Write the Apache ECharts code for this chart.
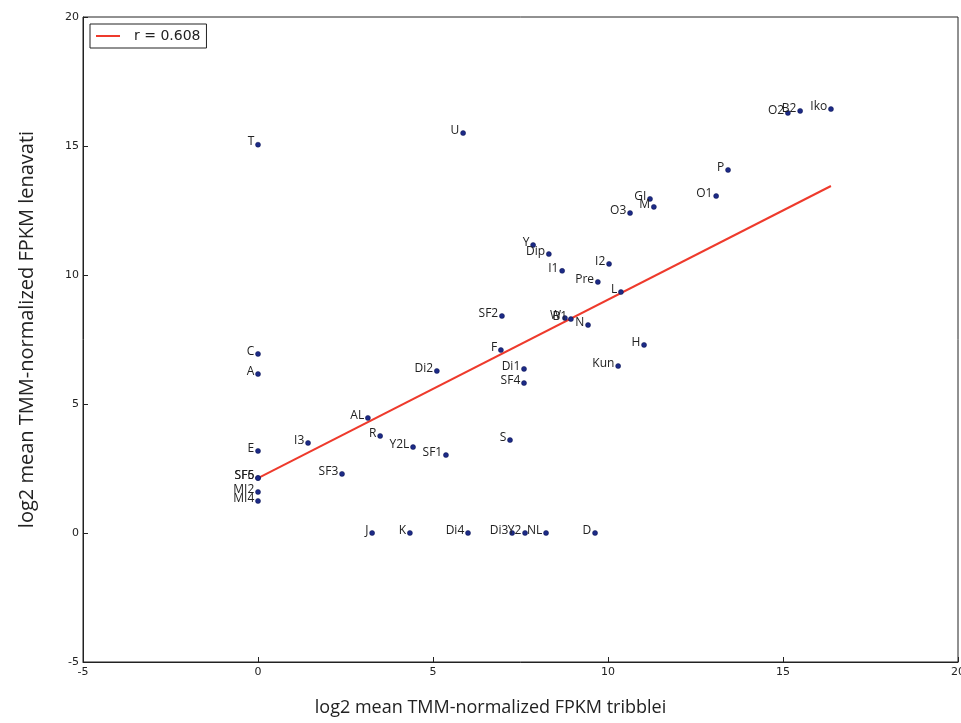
<!DOCTYPE html>
<html><head><meta charset="utf-8">
<script src="https://cdn.jsdelivr.net/npm/echarts@6/dist/echarts.min.js"></script>
<style>html,body{margin:0;padding:0;background:#fff;overflow:hidden}#c{width:961px;height:723px}</style>
</head><body><div id="c"></div>
<script>
const names = ['T','U','C','A','E','SF5','SF6','MI2','MI4','I3','R','AL','SF3','Y2L','SF1','S','J','K','Di4','Di3','Y2','NL','D','Di2','F','Di1','SF4','SF2','W','B1','N','Kun','H','Y','Dip','I1','I2','Pre','L','GI','M','O3','O1','P','O2','B2','Iko'];
const xVals = [0,5.86,0,0,0,0,0,0,0,1.43,3.49,3.14,2.4,4.43,5.37,7.2,3.26,4.34,6.0,7.26,7.63,8.23,9.63,5.11,6.94,7.6,7.6,6.97,8.77,8.94,9.43,10.29,11.03,7.86,8.31,8.69,10.03,9.71,10.37,11.2,11.31,10.63,13.09,13.43,15.14,15.49,16.37];
const yVals = [15.05,15.5,6.94,6.16,3.18,2.13,2.13,1.59,1.24,3.49,3.76,4.46,2.29,3.33,3.02,3.6,0,0,0,0,0,0,0,6.28,7.09,6.36,5.81,8.41,8.33,8.29,8.06,6.47,7.29,11.16,10.81,10.16,10.43,9.73,9.34,12.95,12.64,12.4,13.06,14.07,16.28,16.36,16.43];
const fitX = [0, 16.37];
const fitY = [2.13, 13.45];
const legendLabel = 'r = 0.608';
const xTitle = 'log2 mean TMM-normalized FPKM tribblei';
const yTitle = 'log2 mean TMM-normalized FPKM lenavati';

const pts = names.map((n,i)=>({name:n, value:[xVals[i], yVals[i]]}));
const chart = echarts.init(document.getElementById('c'), null, {renderer:'canvas'});
const tickFont = {fontFamily:'DejaVu Sans', fontSize:11, color:'#222'};
chart.setOption({
  animation:false,
  backgroundColor:'#fff',
  grid:{left:83, right:3, top:17, bottom:61, show:true, borderColor:'#222', borderWidth:1, containLabel:false, outerBoundsMode:'none'},
  legend:{
    show:true, left:90, top:24, orient:'vertical',
    data:[legendLabel],
    icon:'rect', itemWidth:24, itemHeight:2, itemGap:8,
    borderColor:'#222', borderWidth:1, padding:[5,6,5,6],
    textStyle:{fontFamily:'DejaVu Sans', fontSize:14, color:'#222', padding:[0,0,0,9]}
  },
  xAxis:{
    type:'value', min:-5, max:20, interval:5,
    name:xTitle, nameLocation:'middle', nameGap:37,
    nameTextStyle:{fontFamily:'Open Sans', fontSize:18, color:'#222', padding:[0,60,0,0]},
    axisLine:{show:true, onZero:false, lineStyle:{color:'#222'}},
    axisTick:{show:true, inside:true, length:5, lineStyle:{color:'#222'}},
    axisLabel:Object.assign({margin:5}, tickFont),
    splitLine:{show:false}
  },
  yAxis:{
    type:'value', min:-5, max:20, interval:5,
    name:yTitle, nameLocation:'middle', nameGap:46, nameRotate:90,
    nameTextStyle:{fontFamily:'Open Sans', fontSize:20, color:'#222', padding:[0,0,0,20]},
    axisLine:{show:true, onZero:false, lineStyle:{color:'#222'}},
    axisTick:{show:true, inside:true, length:5, lineStyle:{color:'#222'}},
    axisLabel:Object.assign({margin:4}, tickFont),
    splitLine:{show:false}
  },
  series:[
    {
      type:'scatter', name:'pts', data:pts, symbolSize:5,
      itemStyle:{color:'#1c2a86', borderColor:'#0d1450', borderWidth:0.5, opacity:1},
      label:{show:true, formatter:'{b}', position:[-1, 6], align:'right', verticalAlign:'bottom',
        fontFamily:'Open Sans', fontSize:12, color:'#222'},
      z:3
    },
    {
      type:'line', name:legendLabel, data:fitX.map((x,i)=>[x, fitY[i]]),
      showSymbol:false, symbol:'none',
      lineStyle:{color:'#ee3a2c', width:2}, itemStyle:{color:'#ee3a2c'}, z:2
    }
  ]
});
</script></body></html>
